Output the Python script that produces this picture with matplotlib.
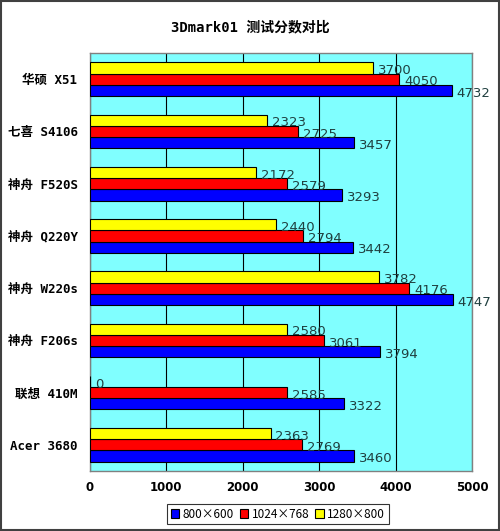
import matplotlib
matplotlib.use("Agg")
import matplotlib.pyplot as plt
import numpy as np
from matplotlib.patches import Rectangle

categories = ["华硕 X51", "七喜 S4106", "神舟 F520S", "神舟 Q220Y", "神舟 W220s", "神舟 F206s", "联想 410M", "Acer 3680"]
series_names = ["800×600", "1024×768", "1280×800"]
s800 = [4732, 3457, 3293, 3442, 4747, 3794, 3322, 3460]
s1024 = [4050, 2725, 2579, 2794, 4176, 3061, 2585, 2769]
s1280 = [3700, 2323, 2172, 2440, 3782, 2580, 0, 2363]
xticks = [0, 1000, 2000, 3000, 4000, 5000]

plt.rcParams['font.family'] = ['Noto Sans CJK SC', 'DejaVu Sans']

fig = plt.figure(figsize=(5.0, 5.31), dpi=100)
fig.patch.set_facecolor('white')
fig.patches.append(Rectangle((0.001, 0.001), 0.997, 0.997, transform=fig.transFigure,
                             fill=False, edgecolor='#404040', linewidth=1.5))
ax = fig.add_axes([0.18, 0.113, 0.764, 0.787])
ax.set_facecolor('#80FFFF')

y = np.arange(len(categories))
h = 0.215
colors = ['#0000FF', '#FF0000', '#FFFF00']
data = [s800, s1024, s1280]
offsets = [h, 0, -h]
bars = []
for vals, c, off, name in zip(data, colors, offsets, series_names):
    b = ax.barh(y + off, vals, height=h, color=c, edgecolor='black', linewidth=0.8, label=name, zorder=3)
    bars.append(b)
    for yi, v in zip(y, vals):
        ax.text(v + 65, yi + off + 0.05, str(v), va='center', ha='left', fontsize=9.5,
                color='#1f3f3f', family=['DejaVu Sans'], zorder=4)

ax.set_xlim(0, 5000)
ax.set_ylim(len(categories) - 0.5, -0.5)
ax.set_xticks(xticks)
ax.set_xticklabels([str(t) for t in xticks], fontsize=8.5, fontweight='bold', family=['DejaVu Sans'])
ax.set_yticks(y)
ax.set_yticklabels(categories, fontsize=9, fontweight='bold', family=['DejaVu Sans Mono', 'Noto Sans CJK SC'])
ax.tick_params(axis='x', length=0, pad=7)
ax.tick_params(axis='y', length=0, pad=9)
ax.grid(axis='x', color='black', linewidth=0.8, zorder=1)
for s in ax.spines.values():
    s.set_color('#808080')
    s.set_linewidth(1)

fig.text(0.5, 0.948, "3Dmark01 测试分数对比", ha='center', va='center', fontsize=10, fontweight='bold',
         family=['DejaVu Sans Mono', 'Noto Sans CJK SC'])

leg = fig.legend(handles=[bars[0], bars[1], bars[2]], labels=series_names, loc='center',
                 bbox_to_anchor=(0.556, 0.032), ncol=3, fontsize=8.5, frameon=True,
                 fancybox=False, edgecolor='black', handlelength=0.7, handleheight=0.7,
                 handletextpad=0.3, columnspacing=0.5, borderpad=0.3, borderaxespad=0)
leg.get_frame().set_linewidth(0.8)

fig.savefig("out.png", dpi=100)
